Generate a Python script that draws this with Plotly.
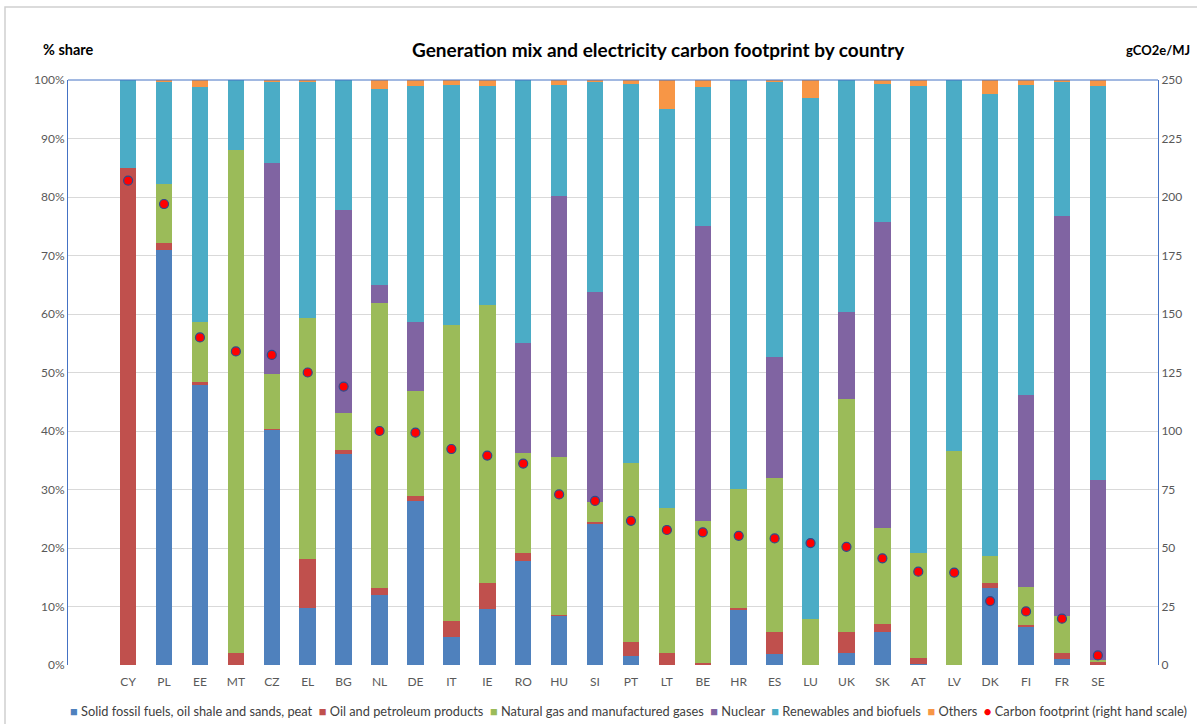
import plotly.graph_objects as go

countries = ["CY", "PL", "EE", "MT", "CZ", "EL", "BG", "NL", "DE", "IT", "IE", "RO", "HU", "SI",
             "PT", "LT", "BE", "HR", "ES", "LU", "UK", "SK", "AT", "LV", "DK", "FI", "FR", "SE"]

solid = [0, 71.0, 47.8, 0, 40.2, 9.8, 36.0, 12.0, 28.0, 4.8, 9.5, 17.8, 8.4, 24.25,
         1.6, 0, 0, 9.5, 1.8, 0, 2.1, 5.6, 0.2, 0, 13.2, 6.6, 1.0, 0]
oil = [85.0, 1.2, 0.5, 2.1, 0.2, 8.4, 0.7, 1.1, 0.9, 2.7, 4.5, 1.35, 0.2, 0.25,
       2.3, 2.0, 0.26, 0.3, 3.8, 0, 3.5, 1.4, 1.0, 0, 0.8, 0.3, 1.0, 0.45]
gas = [0, 10.0, 10.4, 85.9, 9.3, 41.1, 6.4, 48.8, 17.9, 50.6, 47.6, 17.05, 27.0, 3.3,
       30.6, 24.8, 24.44, 20.3, 26.3, 7.8, 39.8, 16.4, 17.9, 36.5, 4.6, 6.4, 6.4, 0.45]
nuclear = [0, 0, 0, 0, 36.1, 0, 34.6, 3.1, 11.8, 0, 0, 18.9, 44.5, 35.9,
           0, 0, 50.4, 0, 20.7, 0, 14.9, 52.4, 0, 0, 0, 32.8, 68.3, 30.8]
renew = [15.0, 17.4, 40.1, 12.0, 14.0, 40.5, 22.3, 33.4, 40.3, 41.0, 37.4, 44.9, 19.1, 36.0,
         64.85, 68.3, 23.65, 69.9, 47.0, 89.1, 39.7, 23.6, 79.9, 63.5, 79.0, 53.1, 22.9, 67.3]
others = [0, 0.4, 1.2, 0, 0.2, 0.2, 0, 1.6, 1.1, 0.9, 1.0, 0, 0.8, 0.3,
          0.65, 4.9, 1.25, 0, 0.4, 3.1, 0, 0.6, 1.0, 0, 2.4, 0.8, 0.4, 1.0]
footprint = [207, 197, 140, 134, 132.5, 125, 119, 100, 99.3, 92.3, 89.5, 86.1, 72.9, 70.1,
             61.6, 57.7, 56.7, 55.2, 54.1, 52.1, 50.5, 45.6, 39.9, 39.5, 27.3, 22.9, 19.8, 4.1]

series = [
    ("Solid fossil fuels, oil shale and sands, peat", solid, "#4F81BD"),
    ("Oil and petroleum products", oil, "#C0504D"),
    ("Natural gas and manufactured gases", gas, "#9BBB59"),
    ("Nuclear", nuclear, "#8064A2"),
    ("Renewables and biofuels", renew, "#4BACC6"),
    ("Others", others, "#F79646"),
]
dot_name = "Carbon footprint (right hand scale)"

FONT = "Lato"
L, R, T, B = 68, 39, 80, 59
W, H = 1197, 724
PW, PH = W - L - R, H - T - B


def px_x(x):
    return (x - L) / PW


def px_y(y):
    return (H - B - y) / PH


fig = go.Figure()
for name, vals, col in series:
    fig.add_trace(go.Bar(x=countries, y=vals, name=name, marker=dict(color=col, line=dict(width=0)),
                         showlegend=False))
fig.add_trace(go.Scatter(x=countries, y=footprint, name=dot_name, mode="markers", yaxis="y2",
                         marker=dict(color="#FF0000", size=9, line=dict(color="#2E4A8C", width=1.2)),
                         showlegend=False))

legend_text = "  ".join(
    [f"<span style='color:{c}'>■</span> {n}" for n, _, c in series]
    + [f"<span style='color:#FF0000'>●</span> {dot_name}"]
)

annotations = [
    dict(text="<b>Generation mix and electricity carbon footprint by country</b>", x=px_x(658), y=px_y(50),
         xref="paper", yref="paper", showarrow=False, font=dict(size=19, color="#000000", family=FONT),
         xanchor="center", yanchor="middle"),
    dict(text="<b>% share</b>", x=px_x(41), y=px_y(50), xref="paper", yref="paper", showarrow=False,
         font=dict(size=14.5, color="#000000", family=FONT), xanchor="left", yanchor="middle"),
    dict(text="<b>gCO2e/MJ</b>", x=px_x(1192), y=px_y(50), xref="paper", yref="paper", showarrow=False,
         font=dict(size=13, color="#000000", family=FONT), xanchor="right", yanchor="middle"),
    dict(text=legend_text, x=px_x(68), y=px_y(711), xref="paper", yref="paper", showarrow=False,
         font=dict(size=12.8, color="#404040", family=FONT), xanchor="left", yanchor="middle"),
]

shapes = [
    # outer light grey frame
    dict(type="rect", xref="paper", yref="paper", x0=px_x(5), x1=px_x(1300), y0=px_y(800), y1=px_y(7),
         line=dict(color="#D0D0D0", width=1.5), fillcolor="rgba(0,0,0,0)", layer="below"),
    # top blue line of plot area
    dict(type="line", xref="paper", yref="paper", x0=0, x1=1, y0=1, y1=1,
         line=dict(color="#4472C4", width=1)),
]

fig.update_layout(
    width=W, height=H,
    margin=dict(l=L, r=R, t=T, b=B),
    barmode="stack",
    bargap=0.54,
    plot_bgcolor="white",
    paper_bgcolor="white",
    font=dict(family=FONT, size=12, color="#595959"),
    annotations=annotations,
    shapes=shapes,
    xaxis=dict(showline=False, ticks="", tickfont=dict(size=12, color="#595959", family=FONT),
               showgrid=False, zeroline=False, ticklabelstandoff=8),
    yaxis=dict(range=[0, 100], dtick=10, ticksuffix="%", showgrid=True, gridcolor="#D9D9D9", gridwidth=1,
               showline=True, linecolor="#4472C4", linewidth=1, zeroline=False,
               tickfont=dict(size=12, color="#595959", family=FONT), ticks=""),
    yaxis2=dict(range=[0, 250], dtick=25, overlaying="y", side="right", showgrid=False,
                showline=True, linecolor="#4472C4", linewidth=1, zeroline=False,
                tickfont=dict(size=12, color="#595959", family=FONT), ticks=""),
)

fig.write_html(
    "out.html",
    config={"displayModeBar": False},
    post_script="document.body.style.margin='0';document.body.style.overflow='hidden';",
)
